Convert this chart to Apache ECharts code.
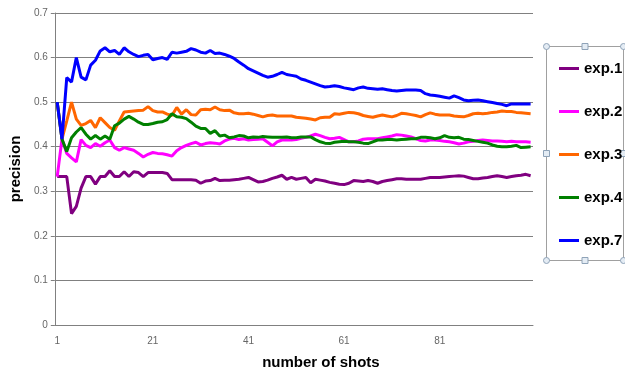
<!DOCTYPE html>
<html>
<head>
<meta charset="utf-8">
<script src="https://cdn.jsdelivr.net/npm/echarts@6/dist/echarts.min.js"></script>
<style>
  html, body { margin: 0; padding: 0; background: #fff; }
  #main { width: 625px; height: 376px; }
</style>
</head>
<body>
<div id="main"></div>
<script>
// number of shots 1..100
var shots = [];
for (var n = 1; n <= 100; n++) shots.push(String(n));

var yTicks = ['0', '0.1', '0.2', '0.3', '0.4', '0.5', '0.6', '0.7'];
var seriesNames = ['exp.1', 'exp.2', 'exp.3', 'exp.4', 'exp.7'];

var exp1 = [
  0.333, 0.333, 0.333, 0.250, 0.266, 0.307, 0.333, 0.333, 0.316, 0.333,
  0.333, 0.346, 0.333, 0.333, 0.344, 0.333, 0.344, 0.342, 0.333, 0.342,
  0.342, 0.342, 0.342, 0.340, 0.326, 0.326, 0.326, 0.326, 0.326, 0.325,
  0.318, 0.323, 0.324, 0.329, 0.324, 0.325, 0.325, 0.326, 0.327, 0.329,
  0.331, 0.326, 0.321, 0.322, 0.325, 0.329, 0.332, 0.336, 0.327, 0.331,
  0.327, 0.329, 0.331, 0.319, 0.327, 0.325, 0.323, 0.320, 0.318, 0.316,
  0.315, 0.318, 0.324, 0.323, 0.322, 0.324, 0.322, 0.318, 0.322, 0.324,
  0.326, 0.328, 0.328, 0.327, 0.327, 0.327, 0.327, 0.329, 0.331, 0.331,
  0.331, 0.332, 0.333, 0.334, 0.335, 0.334, 0.331, 0.328, 0.328, 0.330,
  0.331, 0.333, 0.335, 0.333, 0.331, 0.333, 0.335, 0.336, 0.338, 0.335
];
var exp2 = [
  0.333, 0.417, 0.385, 0.375, 0.366, 0.416, 0.403, 0.398, 0.407, 0.401,
  0.409, 0.415, 0.398, 0.392, 0.398, 0.395, 0.392, 0.385, 0.377, 0.383,
  0.387, 0.385, 0.384, 0.382, 0.379, 0.391, 0.398, 0.403, 0.407, 0.410,
  0.404, 0.407, 0.409, 0.408, 0.406, 0.413, 0.417, 0.419, 0.416, 0.418,
  0.415, 0.416, 0.417, 0.418, 0.410, 0.402, 0.411, 0.415, 0.415, 0.415,
  0.416, 0.419, 0.421, 0.424, 0.428, 0.425, 0.421, 0.418, 0.419, 0.421,
  0.416, 0.411, 0.411, 0.413, 0.417, 0.418, 0.418, 0.418, 0.420, 0.422,
  0.424, 0.427, 0.426, 0.424, 0.422, 0.418, 0.414, 0.413, 0.415, 0.415,
  0.414, 0.412, 0.411, 0.409, 0.406, 0.408, 0.411, 0.412, 0.414, 0.415,
  0.414, 0.413, 0.413, 0.412, 0.411, 0.412, 0.411, 0.411, 0.411, 0.410
];
var exp3 = [
  0.500, 0.417, 0.458, 0.500, 0.462, 0.448, 0.452, 0.459, 0.443, 0.465,
  0.454, 0.443, 0.437, 0.458, 0.478, 0.479, 0.480, 0.481, 0.482, 0.490,
  0.481, 0.478, 0.478, 0.473, 0.470, 0.488, 0.473, 0.483, 0.472, 0.471,
  0.483, 0.484, 0.483, 0.489, 0.483, 0.481, 0.482, 0.476, 0.474, 0.474,
  0.475, 0.473, 0.470, 0.467, 0.470, 0.471, 0.469, 0.469, 0.469, 0.469,
  0.466, 0.465, 0.464, 0.462, 0.460, 0.465, 0.466, 0.466, 0.474, 0.473,
  0.475, 0.477, 0.476, 0.474, 0.470, 0.468, 0.466, 0.469, 0.471, 0.469,
  0.467, 0.470, 0.475, 0.474, 0.472, 0.470, 0.467, 0.472, 0.476, 0.473,
  0.471, 0.471, 0.471, 0.469, 0.468, 0.467, 0.470, 0.474, 0.475, 0.474,
  0.475, 0.477, 0.478, 0.480, 0.479, 0.479, 0.477, 0.476, 0.475, 0.474
];
var exp4 = [
  0.500, 0.417, 0.389, 0.420, 0.433, 0.443, 0.428, 0.417, 0.425, 0.417,
  0.424, 0.417, 0.447, 0.453, 0.462, 0.468, 0.462, 0.455, 0.450, 0.450,
  0.452, 0.455, 0.456, 0.461, 0.474, 0.467, 0.466, 0.463, 0.455, 0.446,
  0.441, 0.441, 0.430, 0.436, 0.424, 0.426, 0.420, 0.422, 0.425, 0.424,
  0.420, 0.422, 0.421, 0.423, 0.422, 0.421, 0.421, 0.421, 0.422, 0.420,
  0.420, 0.422, 0.422, 0.422, 0.416, 0.411, 0.408, 0.407, 0.410, 0.411,
  0.412, 0.411, 0.411, 0.410, 0.408, 0.407, 0.411, 0.415, 0.415, 0.416,
  0.416, 0.415, 0.416, 0.417, 0.418, 0.418, 0.421, 0.421, 0.420, 0.418,
  0.420, 0.425, 0.421, 0.420, 0.421, 0.417, 0.416, 0.414, 0.412, 0.410,
  0.408, 0.404, 0.401, 0.400, 0.400, 0.401, 0.403, 0.398, 0.399, 0.400
];
var exp7 = [
  0.500, 0.417, 0.555, 0.545, 0.600, 0.556, 0.550, 0.583, 0.594, 0.615,
  0.622, 0.613, 0.616, 0.607, 0.622, 0.613, 0.607, 0.602, 0.605, 0.607,
  0.595, 0.598, 0.600, 0.596, 0.612, 0.610, 0.612, 0.614, 0.620, 0.617,
  0.612, 0.610, 0.616, 0.609, 0.610, 0.607, 0.603, 0.598, 0.590, 0.583,
  0.575, 0.570, 0.565, 0.560, 0.556, 0.558, 0.562, 0.567, 0.562, 0.560,
  0.558, 0.552, 0.549, 0.545, 0.541, 0.537, 0.534, 0.535, 0.537, 0.535,
  0.532, 0.530, 0.528, 0.532, 0.534, 0.531, 0.530, 0.529, 0.530, 0.528,
  0.526, 0.525, 0.526, 0.527, 0.527, 0.527, 0.526, 0.519, 0.516, 0.515,
  0.513, 0.511, 0.509, 0.514, 0.510, 0.505, 0.503, 0.504, 0.505, 0.503,
  0.501, 0.499, 0.497, 0.495, 0.492, 0.496, 0.496, 0.496, 0.496, 0.496
];

var lineColors = ['#800080', '#ff00ff', '#ff6600', '#008000', '#0000ff'];
var allData = [exp1, exp2, exp3, exp4, exp7];

var chart = echarts.init(document.getElementById('main'));

var series = [];
for (var k = 0; k < seriesNames.length; k++) {
  series.push({
    name: seriesNames[k],
    type: 'line',
    data: allData[k],
    symbol: 'none',
    showSymbol: false,
    animation: false,
    lineStyle: { width: 3, color: lineColors[k] },
    itemStyle: { color: lineColors[k] }
  });
}

// legend frame with the little selection handles
var boxL = 546, boxT = 46, boxR = 623, boxB = 260;
var midX = (boxL + boxR) / 2, midY = (boxT + boxB) / 2;
var handleStyle = { fill: '#e4ecf4', stroke: '#8fa3b8', lineWidth: 1 };
var graphics = [{
  type: 'rect',
  shape: { x: boxL + 0.5, y: boxT + 0.5, width: boxR - boxL, height: boxB - boxT },
  style: { fill: 'none', stroke: '#a0a0a0', lineWidth: 1 },
  z: 1
}];
[[boxL, boxT], [boxR, boxT], [boxL, boxB], [boxR, boxB]].forEach(function (p) {
  graphics.push({ type: 'circle', shape: { cx: p[0] + 0.5, cy: p[1] + 0.5, r: 3 }, style: handleStyle, z: 2 });
});
[[midX, boxT], [midX, boxB], [boxL, midY], [boxR, midY]].forEach(function (p) {
  graphics.push({ type: 'rect', shape: { x: p[0] - 2.5, y: p[1] - 2.5, width: 6, height: 6 }, style: handleStyle, z: 2 });
});

chart.setOption({
  backgroundColor: '#ffffff',
  animation: false,
  grid: { left: 52, right: 92, top: 13, bottom: 51 },
  legend: {
    orient: 'vertical',
    left: 554,
    top: 56,
    icon: 'rect',
    itemWidth: 20,
    itemHeight: 3,
    itemGap: 28,
    data: seriesNames,
    textStyle: { fontFamily: 'Liberation Sans', fontSize: 15, fontWeight: 'bold', color: '#000' }
  },
  xAxis: {
    type: 'category',
    data: shots,
    boundaryGap: true,
    name: 'number of shots',
    nameLocation: 'middle',
    nameGap: 30,
    nameTextStyle: { fontFamily: 'Liberation Sans', fontSize: 15, fontWeight: 'bold', color: '#000', padding: [0, 0, 0, 54] },
    axisLine: { lineStyle: { color: '#808080', width: 1 } },
    axisTick: {
      length: 4,
      interval: function (index) { return index % 20 === 0; },
      lineStyle: { color: '#808080' }
    },
    axisLabel: {
      interval: function (index) { return index % 20 === 0; },
      color: '#666',
      fontFamily: 'Liberation Sans',
      fontSize: 10,
      margin: 11
    },
    splitLine: { show: false }
  },
  yAxis: {
    type: 'value',
    min: 0,
    max: 0.7,
    interval: 0.1,
    name: 'precision',
    nameLocation: 'middle',
    nameRotate: 90,
    nameGap: 30,
    nameTextStyle: { fontFamily: 'Liberation Sans', fontSize: 15, fontWeight: 'bold', color: '#000' },
    axisLine: { show: true, lineStyle: { color: '#808080', width: 1 } },
    axisTick: { show: true, length: 4, lineStyle: { color: '#808080' } },
    axisLabel: {
      color: '#666',
      fontFamily: 'Liberation Sans',
      fontSize: 10,
      margin: 7,
      formatter: function (v) { return yTicks[Math.round(v * 10)]; }
    },
    splitLine: { show: true, lineStyle: { color: '#808080', width: 1 } }
  },
  graphic: graphics,
  series: series
});
</script>
</body>
</html>
